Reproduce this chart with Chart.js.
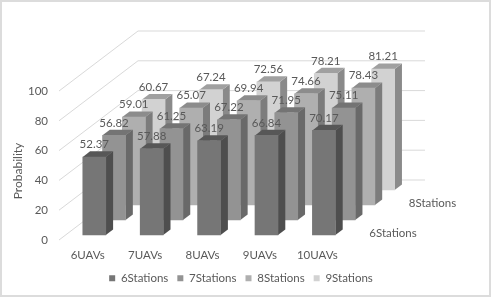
<!DOCTYPE html>
<html><head><meta charset="utf-8">
<style>html,body{margin:0;padding:0;background:#fff}#w{width:491px;height:298px;position:relative}canvas{filter:blur(.35px)}</style>
<script src="https://cdn.jsdelivr.net/npm/chart.js@4"></script>
</head><body><div id="w"><canvas id="c" width="491" height="298"></canvas></div>
<script>
const categories = ['6UAVs','7UAVs','8UAVs','9UAVs','10UAVs'];
const seriesNames = ['6Stations','7Stations','8Stations','9Stations'];
const s6 = [52.37,57.88,63.19,66.84,70.17];
const s7 = [56.82,61.25,67.22,71.95,75.11];
const s8 = [59.01,65.07,69.94,74.66,78.43];
const s9 = [60.67,67.24,72.56,78.21,81.21];
const depthLabels = ['6Stations','','8Stations',''];
const yTitle = 'Probability';
const faces = ['#767676','#939393','#afafaf','#d2d2d2'];
const sides = ['#4e4e4e','#696969','#7c7c7c','#8a8a8a'];
const tops  = ['#575757','#747474','#8c8c8c','#a0a0a0'];
const TEXT = '#595959', FONT = 'Lato', FS = 11.5;
const stepX = 19.75, stepY = 15, gapX = 6.6, gapY = 5, sideX = 7.3, sideY = 5.6;
const wall = {dx:79, dy:60, right:425};

const plugin3d = {
  id:'plugin3d',
  afterLayout(ch){
    const l=ch.legend; l.left+=61; l.right+=61; l.top-=4; l.bottom-=4;
  },
  beforeDraw(ch){
    const c=ch.ctx; c.save(); c.fillStyle='#fff'; c.fillRect(0,0,491,298);
    c.strokeStyle='#dcdcdc'; c.lineWidth=2; c.strokeRect(1,1,489,295); c.restore();
  },
  beforeDatasetsDraw(ch){
    const c=ch.ctx, y=ch.scales.y, a=ch.chartArea;
    c.save(); c.strokeStyle='#d9d9d9'; c.lineWidth=1;
    y.ticks.forEach(t=>{
      const p=y.getPixelForValue(t.value);
      c.beginPath(); c.moveTo(a.left,p); c.lineTo(a.left+wall.dx,p-wall.dy); c.lineTo(wall.right,p-wall.dy); c.stroke();
    });
    c.restore();
  },
  beforeDatasetDraw(ch,{index,meta}){
    const c=ch.ctx;
    c.save();
    c.translate(gapX+stepX*index,-(gapY+stepY*index));
    meta.data.forEach(b=>{
      const {x,y,base,width}=b.getProps(['x','y','base','width'],true);
      const r=x+width/2,l=x-width/2;
      c.fillStyle=sides[index]; c.beginPath();
      c.moveTo(r,y);c.lineTo(r+sideX,y-sideY);c.lineTo(r+sideX,base-sideY);c.lineTo(r,base);c.closePath();c.fill();
      c.fillStyle=tops[index]; c.beginPath();
      c.moveTo(l,y);c.lineTo(l+sideX,y-sideY);c.lineTo(r+sideX,y-sideY);c.lineTo(r,y);c.closePath();c.fill();
    });
  },
  afterDatasetDraw(ch){ ch.ctx.restore(); },
  afterDatasetsDraw(ch){
    const c=ch.ctx,a=ch.chartArea;
    c.save(); c.fillStyle=TEXT; c.font=FS+'px '+FONT; c.textAlign='center'; c.textBaseline='middle';
    ch.data.datasets.forEach((d,i)=>{
      ch.getDatasetMeta(i).data.forEach((b,j)=>{
        c.fillText(d.data[j].toFixed(2), b.x+gapX+stepX*i, b.y-(gapY+stepY*i)-12.5);
      });
    });
    depthLabels.forEach((t,i)=>{ if(t) c.fillText(t, a.right+47+stepX*i, a.bottom-7-stepY*i); });
    c.font='12px '+FONT;
    c.translate(18,171); c.rotate(-Math.PI/2); c.fillText(yTitle,0,0);
    c.restore();
  }
};

new Chart(document.getElementById('c'),{
  type:'bar',
  data:{labels:categories,datasets:[s6,s7,s8,s9].map((v,i)=>({
    label:seriesNames[i],data:v,backgroundColor:faces[i],borderWidth:0,
    barThickness:23,grouped:false,clip:false
  }))},
  options:{
    responsive:false,animation:false,
    layout:{padding:{left:14,right:145,top:91,bottom:0}},
    plugins:{
      tooltip:{enabled:false},
      legend:{position:'bottom',labels:{boxWidth:6,boxHeight:6,padding:9,color:TEXT,font:{family:FONT,size:FS}}}
    },
    scales:{
      x:{grid:{display:false,drawTicks:false},border:{display:false},
         ticks:{color:TEXT,font:{family:FONT,size:FS,lineHeight:1},padding:10,maxRotation:0,autoSkip:false},
         afterFit(s){s.height=27.5;}},
      y:{min:0,max:100,grid:{display:false,drawTicks:false},border:{display:false},
         ticks:{stepSize:20,color:TEXT,font:{family:FONT,size:FS},padding:11},
         afterFit(s){s.width=45;}}
    }
  },
  plugins:[plugin3d]
});
</script></body></html>
